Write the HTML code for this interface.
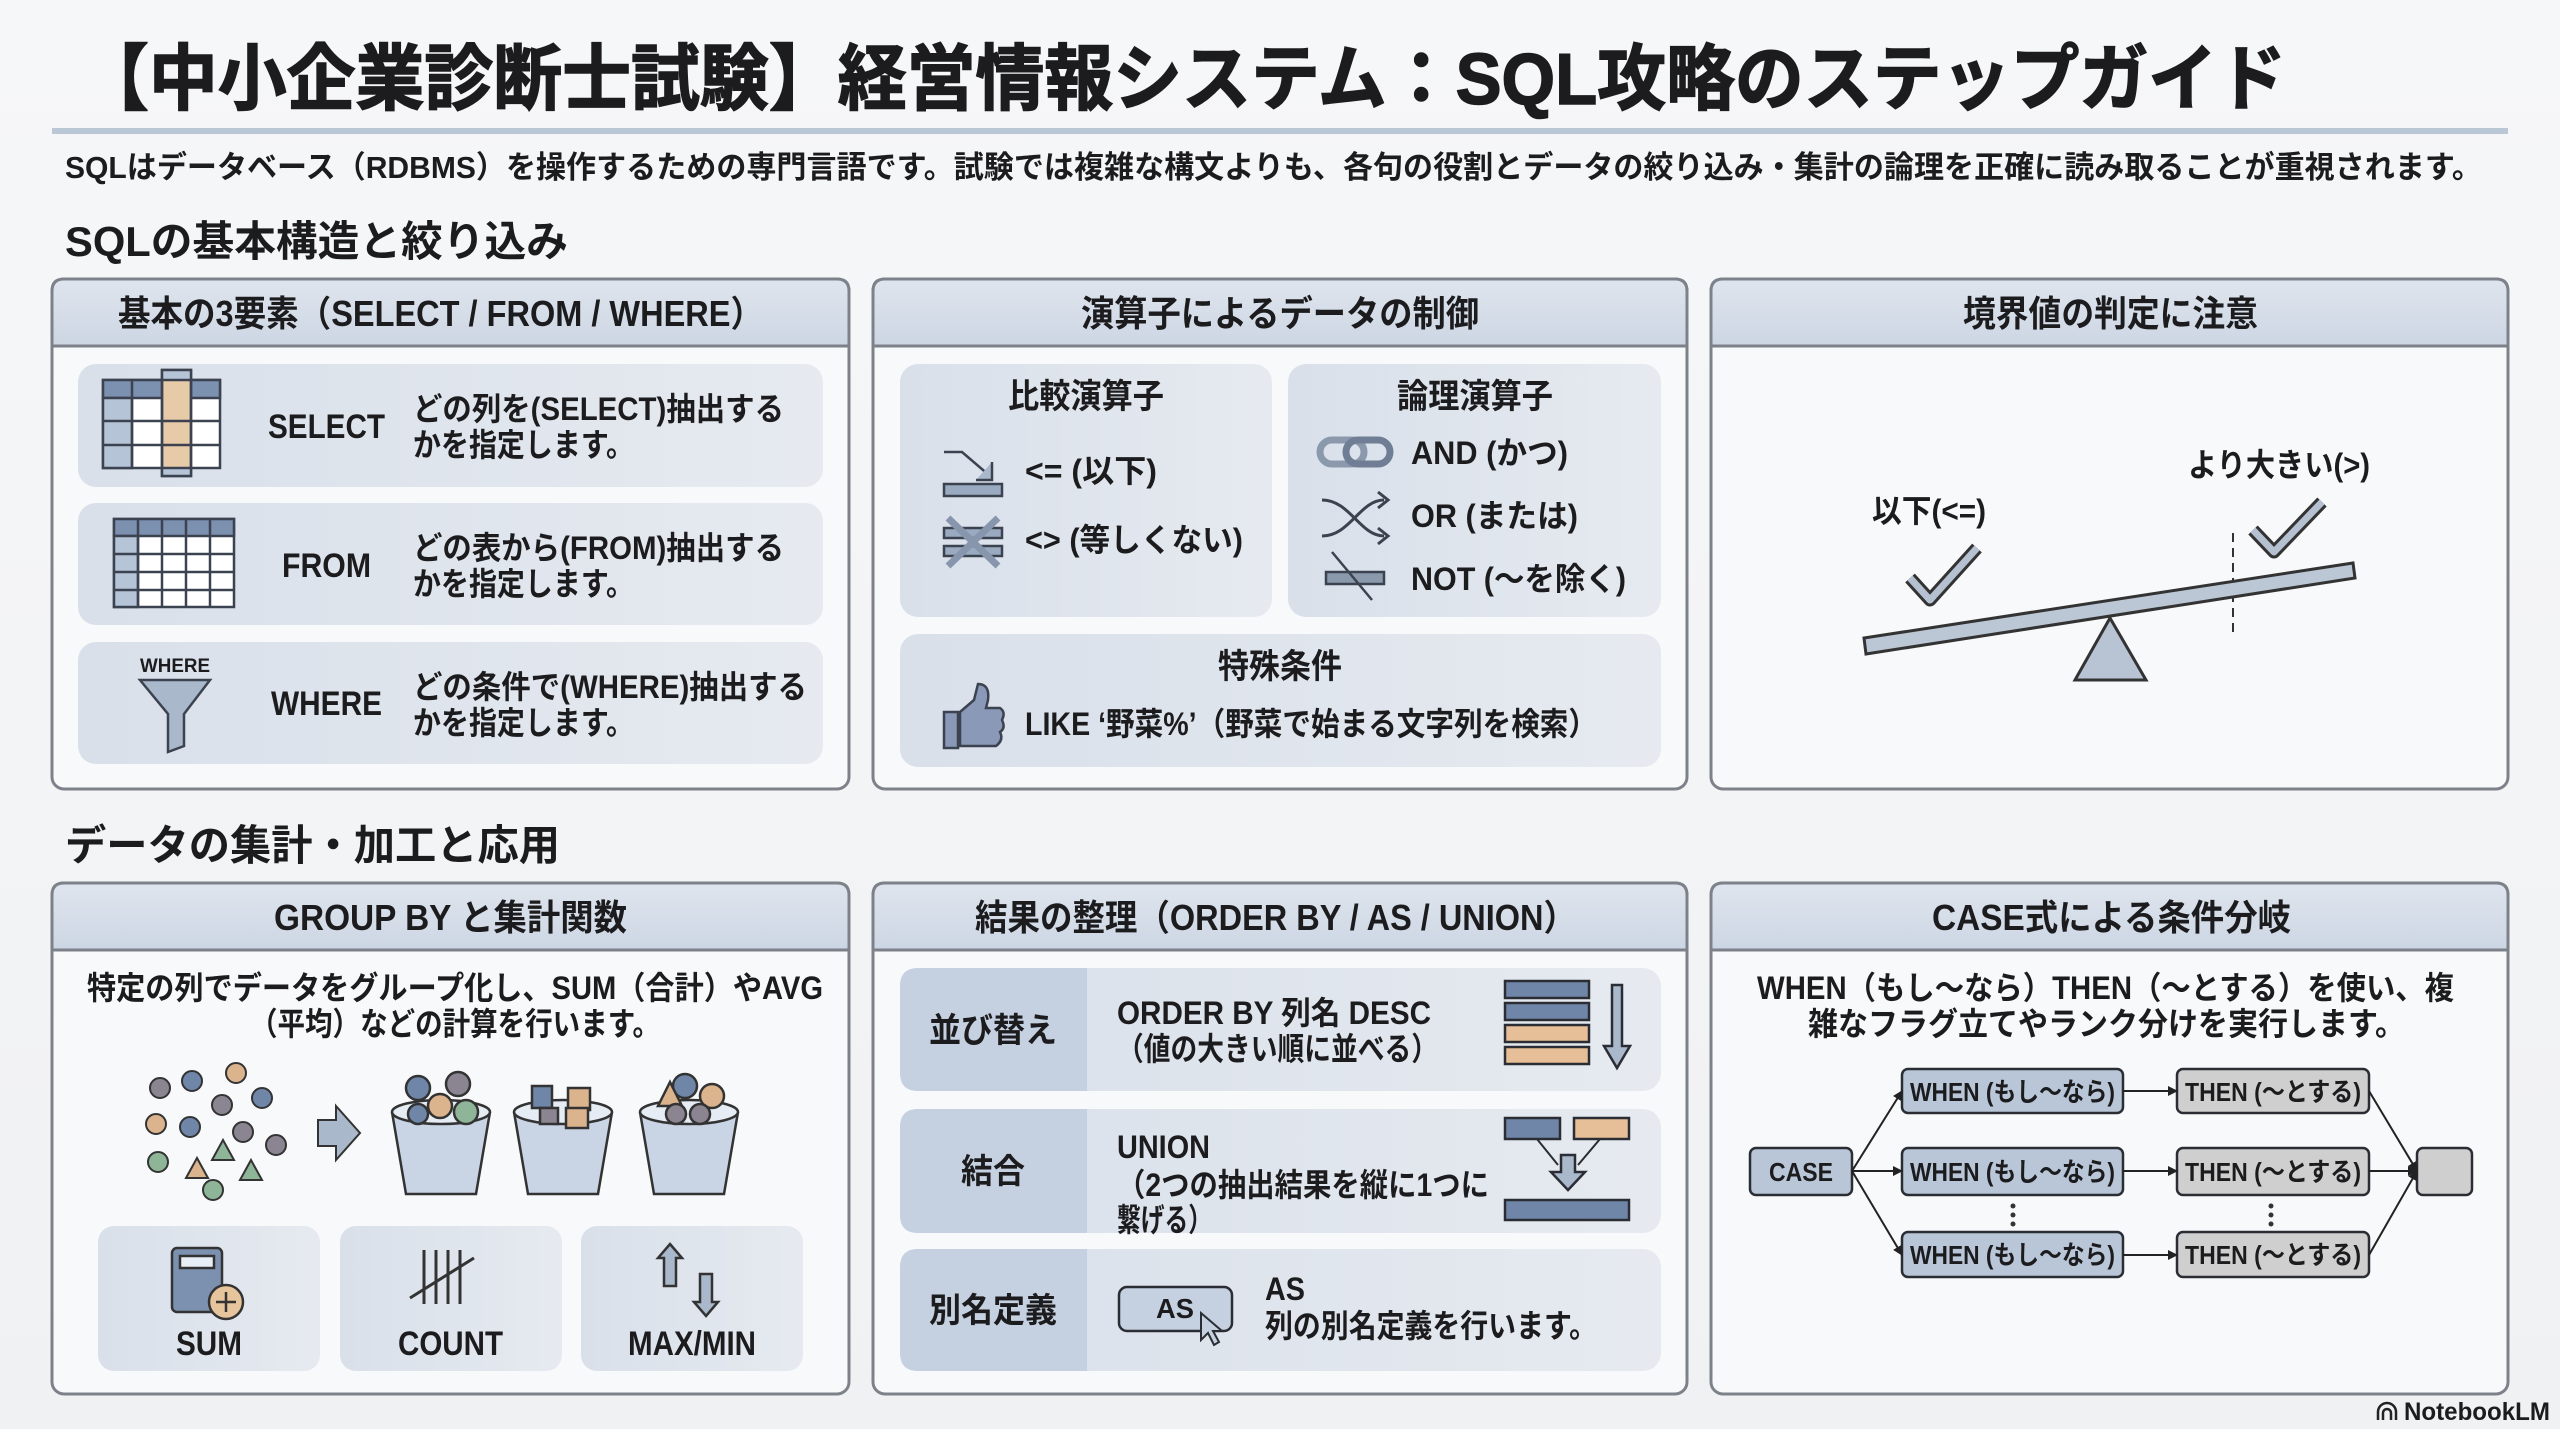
<!DOCTYPE html>
<html><head><meta charset="utf-8"><style>
html,body{margin:0;padding:0;background:#f4f5f7;}
svg{display:block}
text{font-family:"Liberation Sans","Noto Sans CJK JP",sans-serif;font-weight:bold;fill:#1c1c1e}
</style></head><body>
<svg width="2560" height="1429" viewBox="0 0 2560 1429" xmlns="http://www.w3.org/2000/svg">
<defs>
<marker id="ah" markerWidth="10" markerHeight="10" refX="9" refY="5" orient="auto" markerUnits="userSpaceOnUse"><path d="M0,0 L10,5 L0,10 Z" fill="#222"/></marker>
<linearGradient id="bg" x1="0" y1="0" x2="0" y2="1"><stop offset="0" stop-color="#f6f7f8"/><stop offset="1" stop-color="#f0f1f3"/></linearGradient>
<linearGradient id="hd" x1="0" y1="0" x2="0" y2="1"><stop offset="0" stop-color="#dfe5ee"/><stop offset="1" stop-color="#ccd6e3"/></linearGradient>
<linearGradient id="cd" x1="0" y1="0" x2="1" y2="0"><stop offset="0" stop-color="#d9e0ea"/><stop offset="1" stop-color="#e6eaf0"/></linearGradient>
</defs>
<rect width="2560" height="1429" fill="url(#bg)"/>

<!-- Title -->
<text x="80" y="104" font-size="72" textLength="2206" lengthAdjust="spacingAndGlyphs" stroke="#1c1c1e" stroke-width="1.5">【中小企業診断士試験】経営情報システム：SQL攻略のステップガイド</text>
<rect x="52" y="128" width="2456" height="6" fill="#b9c7d6"/>
<text x="65" y="178" font-size="31" textLength="2417" lengthAdjust="spacingAndGlyphs">SQLはデータベース（RDBMS）を操作するための専門言語です。試験では複雑な構文よりも、各句の役割とデータの絞り込み・集計の論理を正確に読み取ることが重視されます。</text>
<text x="65" y="256" font-size="42" textLength="503" lengthAdjust="spacingAndGlyphs">SQLの基本構造と絞り込み</text>
<text x="65" y="860" font-size="42" textLength="495" lengthAdjust="spacingAndGlyphs">データの集計・加工と応用</text>

<!-- Panels -->
<g stroke="#7d828a" stroke-width="3">
<rect x="52" y="279" width="797" height="510" rx="12" fill="#f8f9fb"/>
<rect x="873" y="279" width="814" height="510" rx="12" fill="#f8f9fb"/>
<rect x="1711" y="279" width="797" height="510" rx="12" fill="#f8f9fb"/>
<rect x="52" y="883" width="797" height="511" rx="12" fill="#f8f9fb"/>
<rect x="873" y="883" width="814" height="511" rx="12" fill="#f8f9fb"/>
<rect x="1711" y="883" width="797" height="511" rx="12" fill="#f8f9fb"/>
</g>
<g fill="url(#hd)" stroke="#7d828a" stroke-width="3">
<path d="M52,346 V291 Q52,279 64,279 H837 Q849,279 849,291 V346 Z"/>
<path d="M873,346 V291 Q873,279 885,279 H1675 Q1687,279 1687,291 V346 Z"/>
<path d="M1711,346 V291 Q1711,279 1723,279 H2496 Q2508,279 2508,291 V346 Z"/>
<path d="M52,950 V895 Q52,883 64,883 H837 Q849,883 849,895 V950 Z"/>
<path d="M873,950 V895 Q873,883 885,883 H1675 Q1687,883 1687,895 V950 Z"/>
<path d="M1711,950 V895 Q1711,883 1723,883 H2496 Q2508,883 2508,895 V950 Z"/>
</g>
<text x="118" y="326" font-size="36" textLength="645" lengthAdjust="spacingAndGlyphs">基本の3要素（SELECT / FROM / WHERE）</text>
<text x="1081" y="326" font-size="36" textLength="398" lengthAdjust="spacingAndGlyphs">演算子によるデータの制御</text>
<text x="1963" y="326" font-size="36" textLength="295" lengthAdjust="spacingAndGlyphs">境界値の判定に注意</text>
<text x="274" y="930" font-size="36" textLength="353" lengthAdjust="spacingAndGlyphs">GROUP BY と集計関数</text>
<text x="975" y="930" font-size="36" textLength="601" lengthAdjust="spacingAndGlyphs">結果の整理（ORDER BY / AS / UNION）</text>
<text x="1932" y="930" font-size="36" textLength="359" lengthAdjust="spacingAndGlyphs">CASE式による条件分岐</text>

<!-- Panel 1 cards -->
<g fill="url(#cd)">
<rect x="78" y="364" width="745" height="123" rx="18"/>
<rect x="78" y="503" width="745" height="122" rx="18"/>
<rect x="78" y="642" width="745" height="122" rx="18"/>
</g>
<g stroke="#3c4350" stroke-width="2.5">
<rect x="103" y="380" width="117" height="88" fill="#fff"/>
<rect x="103" y="380" width="117" height="18" fill="#7c90b0"/>
<rect x="103" y="398" width="29" height="70" fill="#b6c4d7"/>
<rect x="162" y="370" width="29" height="106" fill="#e7cba8"/>
<rect x="162" y="370" width="29" height="10" fill="#b6c4d7"/>
<rect x="162" y="468" width="29" height="8" fill="#b6c4d7"/>
<path d="M132,380 V468 M162,380 V468 M191,380 V468 M103,421 H220 M103,445 H220" fill="none"/>
</g>
<g stroke="#3c4350" stroke-width="2.5">
<rect x="114" y="519" width="120" height="88" fill="#fff"/>
<rect x="114" y="519" width="120" height="17" fill="#7c90b0"/>
<rect x="114" y="536" width="24" height="71" fill="#b6c4d7"/>
<path d="M138,519 V607 M162,519 V607 M186,519 V607 M210,519 V607 M114,554 H234 M114,572 H234 M114,590 H234" fill="none"/>
</g>
<text x="140" y="672" font-size="19" textLength="70" lengthAdjust="spacingAndGlyphs">WHERE</text>
<path d="M140,680 H210 L184,714 V746 L168,752 V714 Z" fill="#aab8cc" stroke="#3c4350" stroke-width="2.5"/>
<g font-size="34">
<text x="268" y="438" textLength="117" lengthAdjust="spacingAndGlyphs">SELECT</text>
<text x="282" y="577" textLength="89" lengthAdjust="spacingAndGlyphs">FROM</text>
<text x="271" y="715" textLength="111" lengthAdjust="spacingAndGlyphs">WHERE</text>
</g>
<g font-size="32">
<text x="413" y="420" textLength="371" lengthAdjust="spacingAndGlyphs">どの列を(SELECT)抽出する</text>
<text x="413" y="456" textLength="221" lengthAdjust="spacingAndGlyphs">かを指定します。</text>
<text x="413" y="559" textLength="371" lengthAdjust="spacingAndGlyphs">どの表から(FROM)抽出する</text>
<text x="413" y="595" textLength="221" lengthAdjust="spacingAndGlyphs">かを指定します。</text>
<text x="413" y="698" textLength="394" lengthAdjust="spacingAndGlyphs">どの条件で(WHERE)抽出する</text>
<text x="413" y="734" textLength="221" lengthAdjust="spacingAndGlyphs">かを指定します。</text>
</g>

<!-- Panel 2 -->
<g fill="url(#cd)">
<rect x="900" y="364" width="372" height="253" rx="18"/>
<rect x="1288" y="364" width="373" height="253" rx="18"/>
<rect x="900" y="634" width="761" height="133" rx="18"/>
</g>
<g font-size="34">
<text x="1008" y="408" textLength="156" lengthAdjust="spacingAndGlyphs">比較演算子</text>
<text x="1397" y="408" textLength="156" lengthAdjust="spacingAndGlyphs">論理演算子</text>
<text x="1218" y="678" textLength="124" lengthAdjust="spacingAndGlyphs">特殊条件</text>
</g>
<g font-size="32">
<text x="1025" y="482" textLength="132" lengthAdjust="spacingAndGlyphs">&lt;= (以下)</text>
<text x="1025" y="551" textLength="218" lengthAdjust="spacingAndGlyphs">&lt;&gt; (等しくない)</text>
<text x="1411" y="464" textLength="157" lengthAdjust="spacingAndGlyphs">AND (かつ)</text>
<text x="1411" y="527" textLength="167" lengthAdjust="spacingAndGlyphs">OR (または)</text>
<text x="1411" y="590" textLength="215" lengthAdjust="spacingAndGlyphs">NOT (〜を除く)</text>
<text x="1025" y="735" textLength="572" lengthAdjust="spacingAndGlyphs">LIKE ‘野菜%’（野菜で始まる文字列を検索）</text>
</g>
<g stroke="#3c4350" stroke-width="2.5" fill="none">
<path d="M944,452 H962 L990,476"/><path d="M992,462 V480 H976" fill="#aab8cc"/>
<rect x="944" y="484" width="58" height="12" fill="#9aaac0"/>
</g>
<g stroke="#3c4350" stroke-width="2.5">
<rect x="944" y="528" width="58" height="10" fill="#9aaac0"/>
<rect x="944" y="546" width="58" height="10" fill="#9aaac0"/>
<path d="M948,518 L998,566 M998,518 L948,566" stroke="#8796ad" stroke-width="7"/>
</g>
<g stroke="#3c4350" stroke-width="3" fill="none">
<rect x="1320" y="440" width="44" height="24" rx="12" stroke-width="7" stroke="#8b99ad"/>
<rect x="1346" y="440" width="44" height="24" rx="12" stroke-width="7" stroke="#6f7e95"/>
</g>
<g stroke="#3c4350" stroke-width="3" fill="none">
<path d="M1322,500 C1350,500 1360,536 1384,536 M1322,536 C1350,536 1360,500 1384,500"/>
<path d="M1378,492 L1388,500 L1378,508 M1378,528 L1388,536 L1378,544"/>
</g>
<g stroke="#3c4350" stroke-width="2.5">
<rect x="1326" y="572" width="58" height="12" fill="#8b99ad"/>
<path d="M1332,552 L1372,600" fill="none"/>
</g>
<g stroke="#3c4350" stroke-width="2.5" fill="#8b99b8">
<rect x="944" y="712" width="14" height="36"/>
<path d="M960,712 L974,700 L978,684 Q990,684 988,700 L986,708 H1000 Q1006,712 1002,720 Q1006,728 1000,732 Q1004,740 996,746 H960 Z"/>
</g>

<!-- Panel 3 seesaw -->
<line x1="2233" y1="533" x2="2233" y2="633" stroke="#333" stroke-width="2" stroke-dasharray="9,6"/>
<path d="M1864,638 L2353,563 L2355,578 L1866,654 Z" fill="#bcc7d5" stroke="#333" stroke-width="3"/>
<path d="M2110,618 L2146,680 H2075 Z" fill="#b8c4d4" stroke="#333" stroke-width="3"/>
<path d="M1910,578 L1930,600 L1977,548" fill="none" stroke="#333" stroke-width="13" stroke-linejoin="round"/>
<path d="M1910,578 L1930,600 L1977,548" fill="none" stroke="#b5c1d0" stroke-width="7" stroke-linejoin="round"/>
<path d="M2253,530 L2274,552 L2322,502" fill="none" stroke="#333" stroke-width="13" stroke-linejoin="round"/>
<path d="M2253,530 L2274,552 L2322,502" fill="none" stroke="#b5c1d0" stroke-width="7" stroke-linejoin="round"/>
<g font-size="32">
<text x="1872" y="522" textLength="114" lengthAdjust="spacingAndGlyphs">以下(&lt;=)</text>
<text x="2188" y="476" textLength="182" lengthAdjust="spacingAndGlyphs">より大きい(&gt;)</text>
</g>

<!-- Row2 panel1 -->
<g font-size="32">
<text x="87" y="999" textLength="736" lengthAdjust="spacingAndGlyphs">特定の列でデータをグループ化し、SUM（合計）やAVG</text>
<text x="250" y="1035" textLength="410" lengthAdjust="spacingAndGlyphs">（平均）などの計算を行います。</text>
</g>
<g stroke="#333" stroke-width="2">
<circle cx="160" cy="1088" r="10" fill="#8b8592"/><circle cx="192" cy="1081" r="10" fill="#6f86a8"/>
<circle cx="236" cy="1073" r="10" fill="#dbb38c"/><circle cx="156" cy="1124" r="10" fill="#dbb38c"/>
<circle cx="190" cy="1127" r="10" fill="#6f86a8"/><circle cx="222" cy="1105" r="10" fill="#8b8592"/>
<circle cx="262" cy="1098" r="10" fill="#6f86a8"/><circle cx="243" cy="1132" r="10" fill="#8b8592"/>
<circle cx="276" cy="1145" r="10" fill="#8b8592"/><circle cx="158" cy="1162" r="10" fill="#8fb598"/>
<circle cx="213" cy="1190" r="10" fill="#8fb598"/>
<path d="M186,1178 L197,1158 L208,1178 Z" fill="#dbb38c"/>
<path d="M212,1160 L223,1140 L234,1160 Z" fill="#8fb598"/>
<path d="M240,1180 L251,1160 L262,1180 Z" fill="#8fb598"/>
<path d="M318,1120 H336 V1106 L360,1133 L336,1160 V1146 H318 Z" fill="#aab8cc"/>
</g>
<g stroke="#333" stroke-width="2.5" fill="#c9d5e5">
<path d="M392,1112 L406,1194 H476 L490,1112" /><path d="M514,1112 L528,1194 H598 L612,1112"/><path d="M640,1112 L654,1194 H724 L738,1112"/>
</g>
<g stroke="#333" stroke-width="2.5" fill="#e6ecf3">
<ellipse cx="441" cy="1112" rx="49" ry="12"/><ellipse cx="563" cy="1112" rx="49" ry="12"/><ellipse cx="689" cy="1112" rx="49" ry="12"/>
</g>
<g stroke="#333" stroke-width="2.5">
<circle cx="418" cy="1088" r="12" fill="#6f86a8"/><circle cx="458" cy="1084" r="12" fill="#8b8592"/>
<circle cx="440" cy="1106" r="12" fill="#dbb38c"/><circle cx="466" cy="1112" r="12" fill="#8fb598"/>
<circle cx="418" cy="1114" r="10" fill="#6f86a8"/>
<rect x="532" y="1086" width="20" height="22" fill="#6f86a8"/><rect x="568" y="1088" width="22" height="22" fill="#dbb38c"/>
<rect x="540" y="1108" width="18" height="16" fill="#8b8592"/><rect x="566" y="1108" width="22" height="20" fill="#dbb38c"/>
<circle cx="685" cy="1086" r="12" fill="#6f86a8"/><path d="M658,1106 L670,1082 L682,1106 Z" fill="#dbb38c"/>
<circle cx="712" cy="1096" r="12" fill="#dbb38c"/><circle cx="676" cy="1114" r="10" fill="#8b8592"/><circle cx="700" cy="1114" r="10" fill="#8b8592"/>
</g>
<g fill="url(#cd)">
<rect x="98" y="1226" width="222" height="145" rx="16"/>
<rect x="340" y="1226" width="222" height="145" rx="16"/>
<rect x="581" y="1226" width="222" height="145" rx="16"/>
</g>
<g font-size="34">
<text x="176" y="1355" textLength="66" lengthAdjust="spacingAndGlyphs">SUM</text>
<text x="398" y="1355" textLength="105" lengthAdjust="spacingAndGlyphs">COUNT</text>
<text x="628" y="1355" textLength="128" lengthAdjust="spacingAndGlyphs">MAX/MIN</text>
</g>
<g stroke="#333" stroke-width="2.5">
<rect x="172" y="1248" width="50" height="64" rx="5" fill="#7c90b0"/>
<rect x="180" y="1256" width="34" height="12" fill="#e8eef5"/>
<circle cx="226" cy="1302" r="17" fill="#e6c49c"/>
<path d="M226,1292 V1312 M216,1302 H236" fill="none"/>
<g fill="none" stroke-width="3"><path d="M424,1250 V1304 M436,1250 V1304 M448,1250 V1304 M460,1250 V1304"/><path d="M410,1298 L474,1258"/></g>
<path d="M670,1244 L682,1258 H676 V1286 H664 V1258 H658 Z" fill="#aab8cc"/>
<path d="M706,1316 L718,1302 H712 V1274 H700 V1302 H694 Z" fill="#aab8cc"/>
</g>

<!-- Row2 panel2 -->
<g fill="url(#cd)">
<rect x="900" y="968" width="761" height="123" rx="18"/>
<rect x="900" y="1109" width="761" height="124" rx="18"/>
<rect x="900" y="1249" width="761" height="122" rx="18"/>
</g>
<g fill="#c5d1e0">
<path d="M918,968 H1087 V1091 H918 Q900,1091 900,1073 V986 Q900,968 918,968 Z"/>
<path d="M918,1109 H1087 V1233 H918 Q900,1233 900,1215 V1127 Q900,1109 918,1109 Z"/>
<path d="M918,1249 H1087 V1371 H918 Q900,1371 900,1353 V1267 Q900,1249 918,1249 Z"/>
</g>
<g font-size="34">
<text x="929" y="1042" textLength="128" lengthAdjust="spacingAndGlyphs">並び替え</text>
<text x="961" y="1183" textLength="64" lengthAdjust="spacingAndGlyphs">結合</text>
<text x="929" y="1322" textLength="128" lengthAdjust="spacingAndGlyphs">別名定義</text>
</g>
<g font-size="32">
<text x="1117" y="1024" textLength="314" lengthAdjust="spacingAndGlyphs">ORDER BY 列名 DESC</text>
<text x="1117" y="1060" textLength="321" lengthAdjust="spacingAndGlyphs">（値の大きい順に並べる）</text>
<text x="1117" y="1158" textLength="93" lengthAdjust="spacingAndGlyphs">UNION</text>
<text x="1117" y="1196" textLength="372" lengthAdjust="spacingAndGlyphs">（2つの抽出結果を縦に1つに</text>
<text x="1117" y="1231" textLength="95" lengthAdjust="spacingAndGlyphs">繋げる）</text>
<text x="1265" y="1300" textLength="40" lengthAdjust="spacingAndGlyphs">AS</text>
<text x="1265" y="1337" textLength="332" lengthAdjust="spacingAndGlyphs">列の別名定義を行います。</text>
</g>
<g stroke="#2a2d33" stroke-width="2.5">
<rect x="1505" y="981" width="84" height="17" fill="#6f86a8"/>
<rect x="1505" y="1003" width="84" height="17" fill="#6f86a8"/>
<rect x="1505" y="1025" width="84" height="17" fill="#e6bf98"/>
<rect x="1505" y="1047" width="84" height="17" fill="#e6bf98"/>
<path d="M1612,985 H1622 V1046 H1630 L1617,1068 L1604,1046 H1612 Z" fill="#aab8cc"/>
<rect x="1505" y="1118" width="55" height="21" fill="#6f86a8"/>
<rect x="1574" y="1118" width="55" height="21" fill="#e6bf98"/>
<path d="M1537,1139 L1558,1165 M1600,1139 L1578,1165" fill="none" stroke-width="2"/>
<path d="M1561,1155 H1575 V1172 H1585 L1568,1190 L1551,1172 H1561 Z" fill="#aab8cc"/>
<rect x="1505" y="1200" width="124" height="20" fill="#6f86a8"/>
<rect x="1119" y="1287" width="113" height="44" rx="8" fill="#c5d1e0"/>
<path d="M1201,1313 L1201,1340 L1208,1333 L1214,1345 L1219,1342 L1213,1331 L1222,1331 Z" fill="#c5d1e0" stroke-width="2"/>
</g>
<text x="1156" y="1318" font-size="28" textLength="38" lengthAdjust="spacingAndGlyphs">AS</text>

<!-- Row2 panel3 -->
<g font-size="32">
<text x="1757" y="999" textLength="697" lengthAdjust="spacingAndGlyphs">WHEN（もし〜なら）THEN（〜とする）を使い、複</text>
<text x="1808" y="1035" textLength="597" lengthAdjust="spacingAndGlyphs">雑なフラグ立てやランク分けを実行します。</text>
</g>
<g stroke="#2a2d33" stroke-width="2.5">
<rect x="1750" y="1148" width="102" height="47" rx="6" fill="#b8c6d8"/>
<rect x="1902" y="1069" width="221" height="44" rx="6" fill="#b8c6d8"/>
<rect x="1902" y="1148" width="221" height="47" rx="6" fill="#b8c6d8"/>
<rect x="1902" y="1232" width="221" height="45" rx="6" fill="#b8c6d8"/>
<rect x="2177" y="1069" width="192" height="44" rx="6" fill="#cfcfcf"/>
<rect x="2177" y="1148" width="192" height="47" rx="6" fill="#cfcfcf"/>
<rect x="2177" y="1232" width="192" height="45" rx="6" fill="#cfcfcf"/>
<rect x="2417" y="1148" width="55" height="47" rx="6" fill="#cfcfcf"/>
</g>
<g stroke="#222" stroke-width="2" fill="none" marker-end="url(#ah)">
<line x1="1852" y1="1171" x2="1902" y2="1091"/>
<line x1="1852" y1="1171" x2="1902" y2="1171"/>
<line x1="1852" y1="1171" x2="1902" y2="1255"/>
<line x1="2123" y1="1091" x2="2177" y2="1091"/>
<line x1="2123" y1="1171" x2="2177" y2="1171"/>
<line x1="2123" y1="1255" x2="2177" y2="1255"/>
<line x1="2369" y1="1091" x2="2417" y2="1171"/>
<line x1="2369" y1="1171" x2="2417" y2="1171"/>
<line x1="2369" y1="1255" x2="2417" y2="1171"/>
</g>
<g fill="#333"><circle cx="2013" cy="1206" r="2.5"/><circle cx="2013" cy="1215" r="2.5"/><circle cx="2013" cy="1224" r="2.5"/>
<circle cx="2271" cy="1206" r="2.5"/><circle cx="2271" cy="1215" r="2.5"/><circle cx="2271" cy="1224" r="2.5"/></g>
<g font-size="26">
<text x="1769" y="1181" textLength="64" lengthAdjust="spacingAndGlyphs">CASE</text>
<text x="1910" y="1101" textLength="205" lengthAdjust="spacingAndGlyphs">WHEN (もし〜なら)</text>
<text x="1910" y="1181" textLength="205" lengthAdjust="spacingAndGlyphs">WHEN (もし〜なら)</text>
<text x="1910" y="1264" textLength="205" lengthAdjust="spacingAndGlyphs">WHEN (もし〜なら)</text>
<text x="2185" y="1101" textLength="176" lengthAdjust="spacingAndGlyphs">THEN (〜とする)</text>
<text x="2185" y="1181" textLength="176" lengthAdjust="spacingAndGlyphs">THEN (〜とする)</text>
<text x="2185" y="1264" textLength="176" lengthAdjust="spacingAndGlyphs">THEN (〜とする)</text>
</g>

<path d="M2378,1420 V1412 A9,9 0 0 1 2396,1412 V1420 M2383,1420 V1413 A4,4 0 0 1 2391,1413 V1420" fill="none" stroke="#222" stroke-width="2.5"/>
<text x="2404" y="1420" font-size="25" textLength="146" lengthAdjust="spacingAndGlyphs">NotebookLM</text>
</svg>
</body></html>
